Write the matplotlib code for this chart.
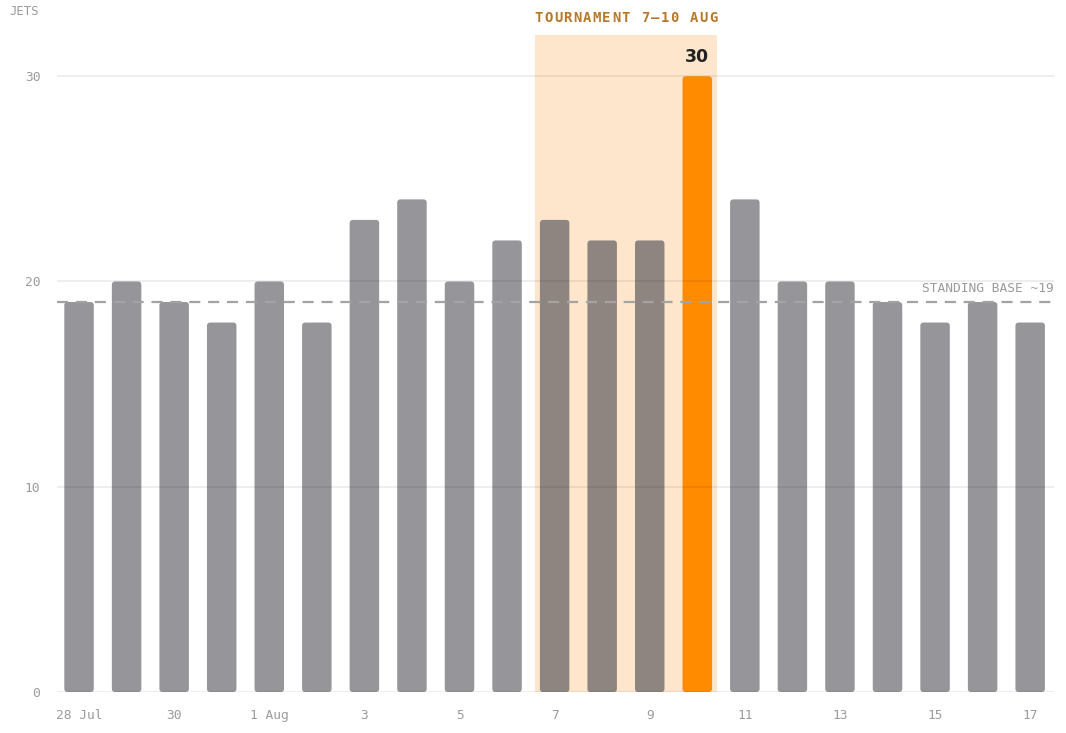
import matplotlib
matplotlib.use("Agg")
import matplotlib.pyplot as plt
from matplotlib.patches import FancyBboxPatch
from matplotlib.transforms import offset_copy

days = ["28 Jul", "29", "30", "31", "1 Aug", "2", "3", "4", "5", "6", "7",
        "8", "9", "10", "11", "12", "13", "14", "15", "16", "17"]
jets = [19, 20, 19, 18, 20, 18, 23, 24, 20, 22, 23, 22, 22, 30, 24, 20, 20, 19, 18, 19, 18]
tick_labels = ["28 Jul", "30", "1 Aug", "3", "5", "7", "9", "11", "13", "15", "17"]
tournament_start, tournament_end = "7", "10"
peak_day = "10"
base_level = 19
yticks = [0, 10, 20, 30]

MONO = "DejaVu Sans Mono"
GRAY_TXT = "#9b9b9b"

fig = plt.figure(figsize=(10.66, 7.33), dpi=100)
ax = fig.add_axes([0.0535, 0.0559, 0.9352, 0.8961])

x = list(range(len(days)))
i0 = days.index(tournament_start)
i1 = days.index(tournament_end)
ipk = days.index(peak_day)

colors = []
for i in x:
    if i == ipk:
        colors.append("#ff8c00")
    elif i0 <= i <= i1:
        colors.append("#8e8580")
    else:
        colors.append("#96959a")

bars = ax.bar(x, jets, width=0.62, color=colors, zorder=2)
ax.set_xlim(-0.463, 20.5)
ax.set_ylim(0, 32)
fig.canvas.draw()
bb = ax.get_window_extent()
pxx = bb.width / (20.5 + 0.463)
pxy = bb.height / 32
for b in bars:
    b.set_visible(False)
    fp = FancyBboxPatch((b.get_x(), b.get_y()), b.get_width(), b.get_height(),
                        boxstyle="round,pad=0,rounding_size=0.07",
                        mutation_aspect=pxx / pxy,
                        facecolor=b.get_facecolor(), edgecolor="none",
                        zorder=3 if b.get_facecolor()[0] > 0.9 else 2)
    ax.add_patch(fp)

# tournament band
ax.axvspan(i0 - 0.41, i1 + 0.41, ymin=0, ymax=1, color="#fde6cc", zorder=1, lw=0)

# grid lines
for yv in yticks:
    ax.axhline(yv, color="#000000", alpha=0.08, lw=1.2, zorder=4)

# standing base
ax.axhline(base_level, color="#a3a3a3", lw=1.6, ls=(0, (5, 3.5)), zorder=5)
ax.text(20.5, base_level + 0.35, "STANDING BASE ~19", ha="right", va="bottom",
        fontsize=9.3, family=MONO, color=GRAY_TXT)

# peak label
ax.text(ipk, jets[ipk] + 0.5, str(jets[ipk]), ha="center", va="bottom",
        fontsize=12.5, fontweight="bold", color="#222222", family="DejaVu Sans")

# tournament label with letter spacing
label = "TOURNAMENT 7\u201310 AUG"
n = len(label)
step_pt = 9.7 * 72 / 100
for k, ch in enumerate(label):
    tr = offset_copy(ax.transData, fig=fig, x=(k - (n - 1) / 2) * step_pt, y=0, units="points")
    ax.text((i0 + i1) / 2, 32.5, ch, transform=tr, ha="center", va="bottom",
            fontsize=10, fontweight="bold", family=MONO, color="#b8782c", clip_on=False)

# axis label
fig.text(0.009, 0.993, "JETS", ha="left", va="top", fontsize=8.8, family=MONO,
         color=GRAY_TXT)

ax.set_yticks(yticks)
ax.set_yticklabels([str(v) for v in yticks], family=MONO, fontsize=9.3, color=GRAY_TXT)
ax.set_xticks([days.index(t) for t in tick_labels])
ax.set_xticklabels(tick_labels, family=MONO, fontsize=9.3, color=GRAY_TXT)
ax.tick_params(length=0, pad=12)
ax.tick_params(axis="y", pad=12)
for s in ax.spines.values():
    s.set_visible(False)

fig.savefig("out.png", dpi=100, facecolor="white")
